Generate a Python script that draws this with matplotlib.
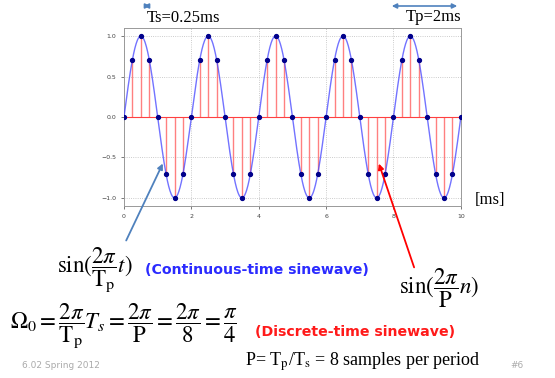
import numpy as np
import matplotlib
matplotlib.use("Agg")
import matplotlib.pyplot as plt

# --- data ---
TP = 2.0          # period [ms]
TS = 0.25         # sample spacing [ms]
T_MAX = 10.0
sample_vals = [0.0, 0.71, 1.0, 0.71, 0.0, -0.71, -1.0, -0.71,
               0.0, 0.71, 1.0, 0.71, 0.0, -0.71, -1.0, -0.71,
               0.0, 0.71, 1.0, 0.71, 0.0, -0.71, -1.0, -0.71,
               0.0, 0.71, 1.0, 0.71, 0.0, -0.71, -1.0, -0.71,
               0.0, 0.71, 1.0, 0.71, 0.0, -0.71, -1.0, -0.71,
               0.0]
x_ticks = [0, 2, 4, 6, 8, 10]
y_ticks = [-1.0, -0.5, 0.0, 0.5, 1.0]

plt.rcParams['mathtext.fontset'] = 'stix'
SERIF = 'Liberation Serif'

fig = plt.figure(figsize=(5.55, 3.78), dpi=100)
fig.patch.set_facecolor('white')
ax = fig.add_axes([0.2234, 0.455, 0.607, 0.471])

# continuous sine (defined by the chart's own label sin(2pi/Tp t))
t = np.linspace(0, T_MAX, 800)
ax.plot(t, np.sin(2 * np.pi * t / TP), color='#4444ff', lw=1.0, alpha=0.75, zorder=3)

n_t = TS * np.arange(len(sample_vals))
ax.vlines(n_t, 0, sample_vals, color='#ff6060', lw=1.0, alpha=0.8, zorder=2)
ax.plot([0, T_MAX], [0, 0], color='#ff4040', lw=0.8, zorder=2)
ax.plot(n_t, sample_vals, 'o', color='#00008b', ms=2.8, zorder=4)

ax.set_xlim(0, T_MAX)
ax.set_ylim(-1.1, 1.1)
ax.set_xticks(x_ticks)
ax.set_yticks(y_ticks)
ax.set_xticklabels([str(v) for v in x_ticks])
ax.set_yticklabels(['\u22121.0', '\u22120.5', '0.0', '0.5', '1.0'])
ax.tick_params(labelsize=4.5, colors='#444444', length=2, width=0.5)
ax.grid(True, ls=':', color='#bbbbbb', lw=0.6)
for s in ax.spines.values():
    s.set_color('#999999')
    s.set_linewidth(0.7)

W, H = 555, 378
def fx(px): return px / W
def fy(py): return 1 - py / H

# top annotations
fig.text(fx(147), fy(18), 'Ts=0.25ms', family=SERIF, fontsize=12, va='center', ha='left')
fig.text(fx(461), fy(17), 'Tp=2ms', family=SERIF, fontsize=12, va='center', ha='right')
arr = dict(arrowstyle='<|-|>', color='#4f81bd', lw=1.2, mutation_scale=7)
fig.add_artist(matplotlib.patches.FancyArrowPatch((fx(141), fy(6)), (fx(153), fy(6)),
               transform=fig.transFigure, **arr))
fig.add_artist(matplotlib.patches.FancyArrowPatch((fx(389), fy(6)), (fx(460), fy(6)),
               transform=fig.transFigure, **arr))

fig.text(fx(475), fy(200), '[ms]', family=SERIF, fontsize=12, va='center', ha='left')

# pointer arrows
fig.add_artist(matplotlib.patches.FancyArrowPatch((fx(125), fy(243)), (fx(164), fy(161)),
               transform=fig.transFigure, arrowstyle='-|>', color='#4f81bd',
               lw=1.3, mutation_scale=8))
fig.add_artist(matplotlib.patches.FancyArrowPatch((fx(415), fy(270)), (fx(378), fy(161)),
               transform=fig.transFigure, arrowstyle='-|>', color='red',
               lw=1.3, mutation_scale=8))

# formulas
fig.text(fx(57), fy(270), r'$\sin(\dfrac{2\pi}{\mathrm{T_p}}t)$', fontsize=16.5,
         va='center', ha='left')
fig.text(fx(145), fy(270), '(Continuous-time sinewave)', color='#2b2bff',
         fontweight='bold', fontsize=10.2, va='center', ha='left')
fig.text(fx(399), fy(288), r'$\sin(\dfrac{2\pi}{\mathrm{P}}n)$', fontsize=16.5,
         va='center', ha='left')
fig.text(fx(10), fy(326),
         r'$\Omega_0=\dfrac{2\pi}{\mathrm{T_p}}T_s=\dfrac{2\pi}{\mathrm{P}}=\dfrac{2\pi}{8}=\dfrac{\pi}{4}$',
         fontsize=16.5, va='center', ha='left')
fig.text(fx(255), fy(332), '(Discrete-time sinewave)', color='#ff1a1a',
         fontweight='bold', fontsize=10.2, va='center', ha='left')

fig.text(fx(245), fy(362), r'P= T$_\mathrm{p}$/T$_\mathrm{s}$ = 8 samples per period',
         family=SERIF, fontsize=13, va='center', ha='left')
fig.text(fx(22), fy(365), '6.02 Spring 2012', color='#aaaaaa', fontsize=6.5,
         va='center', ha='left')
fig.text(fx(510), fy(365), '#6', color='#aaaaaa', fontsize=6.5, va='center', ha='left')

fig.savefig('out.png', dpi=100)
